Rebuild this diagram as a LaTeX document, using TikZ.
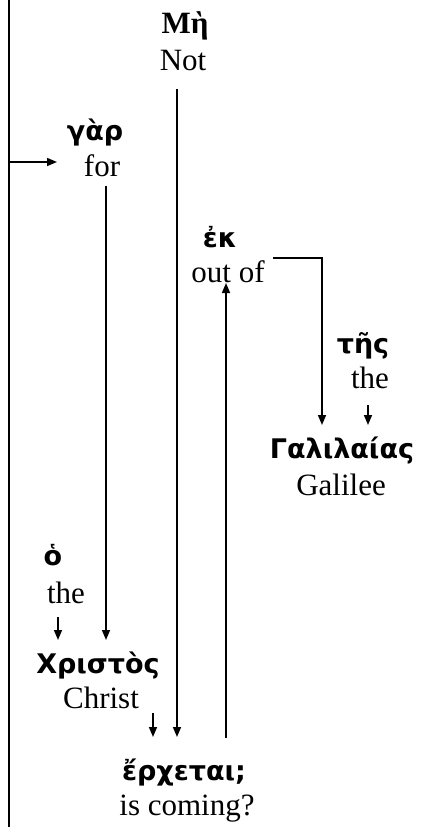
\documentclass[tikz,border=0pt]{standalone}
\usepackage{fontspec}
\setmainfont{Liberation Serif}
\newfontfamily\gkfont{DejaVu Sans}
\newfontfamily\gkserif{Liberation Serif}
\usetikzlibrary{arrows.meta}
\begin{document}
\begin{tikzpicture}[x=1pt,y=-1pt,
  gk/.style={anchor=base,inner sep=0pt,font=\gkfont\bfseries\fontsize{27}{30}\selectfont},
  gks/.style={anchor=base,inner sep=0pt,font=\gkserif\bfseries\fontsize{31}{34}\selectfont},
  en/.style={anchor=base,inner sep=0pt,font=\fontsize{31}{34}\selectfont},
  ln/.style={line width=1.5pt},
  arr/.style={line width=1.5pt,-{Triangle[length=10pt,width=8pt]}}]
\useasboundingbox (0,0) rectangle (424,827);
% words
\node[gks] (mh) at (185,33) {Μὴ};
\node[en] (not) at (183,70) {Not};
\node[gk] (gar) at (95,140) {γὰρ};
\node[en] (for) at (102,176) {for};
\node[gk] (ek) at (220,247) {ἐκ};
\node[en] (outof) at (228,282) {out of};
\node[gk] (tes) at (363,353) {τῆς};
\node[en] (the1) at (370,388) {the};
\node[gk] (gal) at (342,458) {Γαλιλαίας};
\node[en] (galilee) at (341,495) {Galilee};
\node[gk] (ho) at (53,565) {ὁ};
\node[en] (the2) at (66,603) {the};
\node[gk] (chr) at (98,673) {Χριστὸς};
\node[en] (christ) at (101,708) {Christ};
\node[gk] (erx) at (184,780) {ἔρχεται;};
\node[en] (coming) at (187,815) {is coming?};
% connector ends
\coordinate (ltop) at (9,0);
\coordinate (lbot) at (9,827);
\coordinate (lmid) at (9,162);
\coordinate (garin) at (57,162);
\coordinate (fors) at (106,186);
\coordinate (chrin) at (106,640);
\coordinate (nots) at (177,89);
\coordinate (erxin1) at (177,737);
\coordinate (erxout) at (226,738);
\coordinate (outofin) at (226,283);
\coordinate (outofe) at (273,258);
\coordinate (brk) at (322,258);
\coordinate (galin1) at (322,425);
\coordinate (the1s) at (368,405);
\coordinate (galin2) at (368,425);
\coordinate (the2s) at (58,617);
\coordinate (chrin2) at (58,640);
\coordinate (christs) at (153,713);
\coordinate (erxin2) at (153,737);
% connectors
\draw[ln] (ltop) -- (lbot);
\draw[arr] (lmid) -- (garin);
\draw[arr] (fors) -- (chrin);
\draw[arr] (nots) -- (erxin1);
\draw[arr] (erxout) -- (outofin);
\draw[arr] (outofe) -- (brk) -- (galin1);
\draw[arr] (the1s) -- (galin2);
\draw[arr] (the2s) -- (chrin2);
\draw[arr] (christs) -- (erxin2);
\end{tikzpicture}
\end{document}
